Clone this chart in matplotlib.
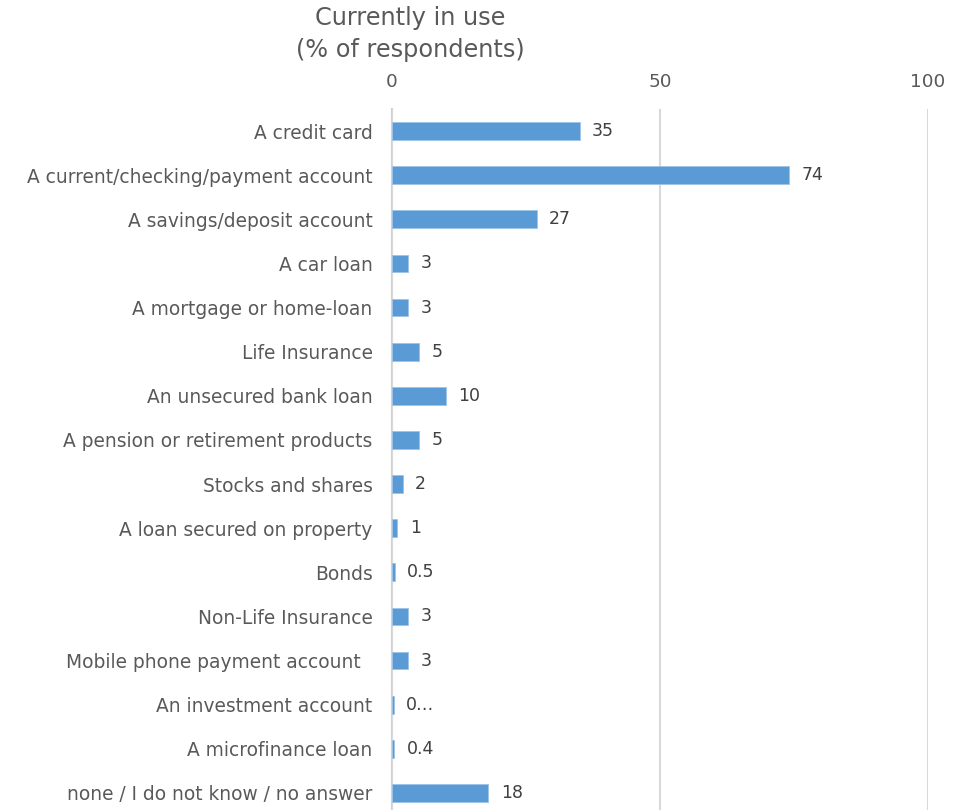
import matplotlib.pyplot as plt
import numpy as np

products = [
    "A credit card",
    "A current/checking/payment account",
    "A savings/deposit account",
    "A car loan",
    "A mortgage or home-loan",
    "Life Insurance",
    "An unsecured bank loan",
    "A pension or retirement products",
    "Stocks and shares",
    "A loan secured on property",
    "Bonds",
    "Non-Life Insurance",
    "Mobile phone payment account  ",
    "An investment account",
    "A microfinance loan",
    "none / I do not know / no answer",
]
in_use = [35, 74, 27, 3, 3, 5, 10, 5, 2, 1, 0.5, 3, 3, 0.3, 0.4, 18]
value_labels = ["35", "74", "27", "3", "3", "5", "10", "5", "2", "1",
                "0.5", "3", "3", "0\u2026", "0.4", "18"]
xticks = [0, 50, 100]

grey = "#595959"
plt.rcParams["font.family"] = ["DejaVu Sans"]

fig = plt.figure(figsize=(9.68, 8.1), dpi=100)
ax = fig.add_axes([392 / 968, -5 / 810, (928 - 392) / 968, (815 - 109) / 810])

y = np.arange(len(products))
bars = ax.barh(y, in_use, height=0.4, color="#5B9BD5", edgecolor="#9DC3E6",
               linewidth=0.6, zorder=3)
ax.bar_label(bars, labels=value_labels, padding=9, fontsize=12.5, color="#404040")

ax.set_ylim(len(products) - 0.5, -0.5)
ax.set_xlim(0, 100)
ax.set_yticks(y)
ax.set_yticklabels(products, fontsize=13.4, color=grey)
ax.set_xticks(xticks)
ax.xaxis.tick_top()
ax.tick_params(axis="x", length=0, pad=13, labelsize=13.3, labelcolor=grey)
ax.tick_params(axis="y", length=0, pad=14)
ax.grid(axis="x", color="#d9d9d9", linewidth=1.5, zorder=0)
ax.axvline(0, color="#d0d0d0", linewidth=1.5, zorder=1, clip_on=False)
for s in ax.spines.values():
    s.set_visible(False)

fig.text(410 / 968, 1 - 18 / 810, "Currently in use", ha="center", va="center",
         fontsize=17.3, color=grey)
fig.text(410 / 968, 1 - 50 / 810, "(% of respondents)", ha="center", va="center",
         fontsize=17.3, color=grey)

fig.savefig("out.png", dpi=100)
